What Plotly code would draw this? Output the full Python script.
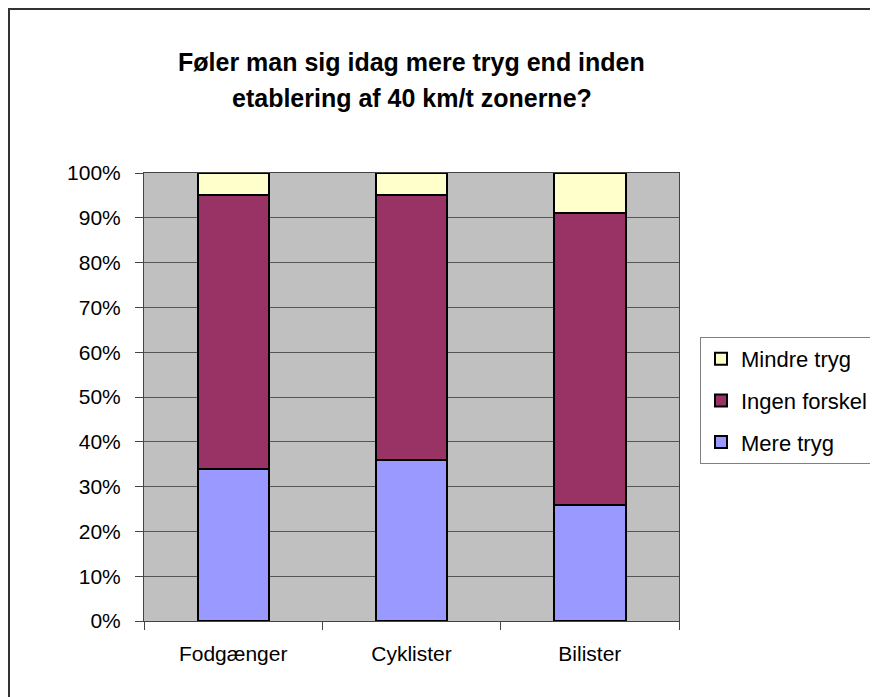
import plotly.graph_objects as go

categories = ["Fodgænger", "Cyklister", "Bilister"]
mere_tryg = [34, 36, 26]
ingen_forskel = [61, 59, 65]
mindre_tryg = [5, 5, 9]
y_ticks = list(range(0, 101, 10))
y_tick_labels = [f"{v}%" for v in y_ticks]
title_lines = ["Føler man sig idag mere tryg end inden", "etablering af 40 km/t zonerne?"]

FONT = "Liberation Sans, Arial, sans-serif"

fig = go.Figure()
series = [
    ("Mere tryg", mere_tryg, "#9999FF", 3),
    ("Ingen forskel", ingen_forskel, "#993366", 2),
    ("Mindre tryg", mindre_tryg, "#FFFFCC", 1),
]
for name, vals, color, rank in series:
    fig.add_trace(go.Bar(
        x=categories, y=vals, name=name, width=0.4, legendgroup=name,
        legendrank=rank,
        marker=dict(color=color, line=dict(color="black", width=2)),
    ))

# page offset of the figure inside the browser (body margin)
OFF = 8
W, H = 878 - OFF, 697 - OFF
L, T = 144 - OFF, 173 - OFF
R = W - (679 - OFF)
B = H - (621 - OFF)
pw, ph = W - L - R, H - T - B

def px(x):
    return (x - OFF - L) / pw

def py(y):
    return (H - B - (y - OFF)) / ph

fig.update_layout(
    width=W, height=H,
    margin=dict(l=L, r=R, t=T, b=B, autoexpand=False),
    barmode="stack",
    paper_bgcolor="white",
    plot_bgcolor="#C0C0C0",
    font=dict(family=FONT, size=21, color="black"),
    showlegend=True,
    legend=dict(
        x=px(700), y=py(337), xanchor="left", yanchor="top",
        traceorder="grouped", tracegroupgap=10,
        bgcolor="white", bordercolor="#808080", borderwidth=1,
        font=dict(family=FONT, size=22, color="black"),
    ),
    xaxis=dict(
        showgrid=False, ticks="outside", ticklen=8, tickcolor="#444",
        tickson="boundaries", showline=True, linecolor="#444", linewidth=1,
        mirror=True, ticklabelstandoff=14,
        tickfont=dict(family=FONT, size=21),
    ),
    yaxis=dict(
        range=[0, 100], tickvals=y_ticks, ticktext=y_tick_labels,
        showgrid=True, gridcolor="#555555", gridwidth=1, zeroline=False,
        ticks="outside", ticklen=8, tickcolor="#444",
        showline=True, linecolor="#444", linewidth=1, mirror=True,
        ticklabelstandoff=10,
        tickfont=dict(family=FONT, size=21),
    ),
    shapes=[dict(
        type="rect", xref="paper", yref="paper",
        x0=px(9), x1=px(900), y0=py(720), y1=py(9),
        line=dict(color="#333333", width=2), fillcolor="rgba(0,0,0,0)",
        layer="below",
    )],
    annotations=[
        dict(text=f"<b>{title_lines[0]}</b>", xref="paper", yref="paper",
             x=px(411.5), y=py(62), xanchor="center", yanchor="middle",
             showarrow=False, font=dict(family=FONT, size=25, color="black")),
        dict(text=f"<b>{title_lines[1]}</b>", xref="paper", yref="paper",
             x=px(411.5), y=py(98), xanchor="center", yanchor="middle",
             showarrow=False, font=dict(family=FONT, size=25, color="black")),
    ],
)

fig.write_html("out.html")
